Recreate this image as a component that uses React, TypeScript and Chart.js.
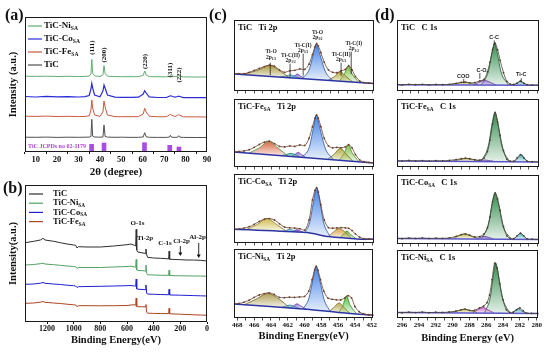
import React, { useEffect, useRef } from 'react';
import { Chart, registerables } from 'chart.js';

Chart.register(...registerables);

const SERIF = "'Times New Roman', 'Liberation Serif', serif";
const SANS = "Arial, 'Liberation Sans', sans-serif";

// ---------------- (a) XRD ----------------
const xrdAngles = [5, 10, 15, 20, 25, 30, 33, 35, 35.8, 36.2, 36.6, 37.5, 40, 41.4, 41.9, 42.4, 43.5, 47, 50, 55, 58, 60.2, 60.9, 61.6, 63, 67, 71, 72.4, 72.9, 73.4, 75, 76.3, 76.8, 77.3, 79, 85, 90];
const xrdTiC = [14.8, 14.7, 14.9, 14.6, 14.8, 14.7, 14.8, 14.9, 15.5, 32.7, 15.8, 15.0, 14.8, 15.0, 27, 15.6, 14.9, 14.7, 14.8, 14.6, 14.7, 15.0, 19.3, 15.2, 14.7, 14.6, 14.6, 14.9, 16.7, 14.9, 14.6, 14.8, 16.3, 14.8, 14.6, 14.5, 14.5];
const xrdFe = [35.8, 35.6, 35.9, 35.5, 35.7, 35.4, 35.6, 36.2, 42, 52, 44, 37, 35.6, 40, 51, 45, 37, 35.4, 35.3, 35.3, 35.4, 38, 43.7, 40, 35.8, 35.2, 35.3, 36.8, 38, 37, 35.4, 36.8, 37.3, 36.8, 35.2, 35.1, 35.0];
const xrdCo = [55.5, 55.0, 55.6, 55.1, 55.4, 55.0, 55.3, 56.5, 63, 68.7, 64, 57, 55.2, 61, 67, 64, 57, 54.8, 54.7, 54.6, 54.8, 58, 61.3, 59, 55.2, 54.5, 54.5, 55.8, 56.2, 56, 54.8, 55.5, 55.8, 55.5, 54.4, 54.3, 54.3];
const xrdNi = [75.8, 75.6, 75.8, 75.5, 75.7, 75.5, 75.6, 75.9, 78, 92.7, 79, 76.2, 75.5, 77, 86.3, 78.5, 75.8, 75.4, 75.3, 75.3, 75.4, 76.5, 81, 77, 75.4, 75.2, 75.2, 75.8, 76.7, 76, 75.3, 75.8, 76.3, 75.7, 75.1, 75.0, 75.0];
const jcpdsAngles = [36.1, 41.9, 60.8, 72.6, 76.9];
const jcpdsIntensity = [7.7, 9, 9.3, 6.7, 5];
const hklLabels = ['(111)', '(200)', '(220)', '(311)', '(222)'];
const hklAngles = [36.2, 42.0, 61.0, 72.8, 76.8];

// ---------------- (b) XPS survey ----------------
const surveyEnergies = [1365, 1300, 1250, 1230, 1215, 1150, 1100, 1050, 1000, 985, 975, 965, 900, 800, 700, 600, 570, 545, 535, 531, 527, 520, 480, 465, 458, 452, 445, 400, 350, 300, 288, 284, 280, 270, 200, 150, 100, 50, 0];
const surveyTiC = [79.3, 80.7, 82, 83.7, 82, 80.7, 79.3, 78, 77, 76.7, 74, 75.3, 75, 75, 76, 77.3, 78, 76.7, 76, 92.7, 72, 70, 69, 68.7, 73, 67, 64.7, 64, 63.7, 63.3, 63, 71, 62.7, 62.7, 62.3, 62, 62, 61.7, 61];
const surveyNi = [57, 57.5, 58.3, 58.8, 58, 57.3, 56.7, 56, 55.5, 55.3, 53.5, 54.5, 54.5, 54.5, 55, 55.5, 55.8, 55, 54.7, 62.5, 52, 51.5, 51.3, 51, 57, 48.5, 47.3, 47, 46.8, 46.7, 46.6, 52, 46.4, 46.4, 46.2, 46.1, 46, 46, 45.8];
const surveyCo = [37.7, 38, 38.8, 39.5, 38.7, 38, 37.5, 36.8, 36.3, 36, 34.5, 35.3, 35.5, 35.7, 36, 36.3, 36.5, 36, 35.8, 43, 33, 32.8, 32.5, 32.3, 37, 28.5, 28, 27.7, 27.5, 27.3, 27.2, 32.7, 27, 27, 26.8, 26.6, 26.4, 26.2, 26];
const surveyFe = [18.7, 19, 19.8, 20.5, 19.7, 19, 18.5, 17.8, 17.2, 17, 15.3, 16.3, 16.3, 16.2, 16.3, 16.5, 17, 17.3, 16.5, 24, 15.5, 15.3, 15.2, 15.2, 17.5, 9.5, 8.8, 8.6, 8.5, 8.4, 8.3, 13.7, 8.2, 8.1, 7.8, 7.5, 7.2, 7, 6.7];
const surveyTicks = [0, 200, 400, 600, 800, 1000, 1200];
const surveyLabels = ['O-1s', 'Ti-2p', 'C-1s', 'Cl-2p', 'Al-2p'];
const surveyLabelEnergies = [521, 465, 315, 191, 71];

// ---------------- (c) Ti 2p ----------------
const ti2pEnergies = [468.4, 467.8, 467.2, 466.6, 466.0, 465.4, 464.8, 464.2, 463.6, 463.0, 462.4, 461.8, 461.2, 460.6, 460.0, 459.5, 459.1, 458.8, 458.6, 458.4, 458.1, 457.7, 457.2, 456.7, 456.2, 455.7, 455.2, 454.8, 454.4, 454.0, 453.5, 453.0, 452.4, 451.8];
const ti2pRawTiC = [18.0, 18.2, 18.0, 19.5, 21.5, 23.5, 25.5, 27.0, 25.8, 22.0, 19.5, 21.0, 21.5, 23.0, 22.5, 28, 38, 46, 49.5, 47, 40, 30, 22, 19.5, 19.0, 21.0, 22.5, 26.5, 22, 15, 10.5, 8.8, 8.3, 7.7];
const ti2pRawFe = [15.7, 16.2, 16.8, 18.0, 20.5, 23.5, 26.0, 27.0, 24.5, 21.5, 21.0, 22.0, 21.5, 23.0, 22.5, 30, 42, 51, 54.3, 51, 42, 30, 22, 20, 20.5, 20, 21, 23.3, 20, 13, 7.5, 5.5, 4.8, 4.3];
const ti2pRawCo = [14.3, 14.8, 15.6, 17.0, 19.5, 22.5, 24.8, 25.5, 24, 20, 16.5, 15.8, 15.5, 15.0, 13.5, 24, 45, 55, 57.7, 53, 40, 24, 16, 15.5, 15.7, 16, 15.8, 15.3, 13, 9.5, 6, 4.5, 4.2, 4.0];
const ti2pRawNi = [14.7, 15.2, 16.5, 18.5, 21.5, 24.0, 25.5, 26.3, 24.5, 21.5, 21.2, 21.7, 21.5, 22, 22.5, 28, 40, 50, 54, 50, 40, 28, 20.7, 19.5, 19, 18.8, 21, 23.3, 21, 12, 6.5, 4.5, 3.5, 3.0];
const ti2pBgTiC = [[468.4, 17.7], [451.8, 7.7]];
const ti2pBgFe = [[468.4, 15.7], [451.8, 4.3]];
const ti2pBgCo = [[468.4, 14.3], [459.8, 11], [457.2, 6.7], [453.4, 4], [451.8, 4]];
const ti2pBgNi = [[468.4, 14.7], [459.8, 9.2], [455.6, 5.5], [451.8, 3]];
const ti2pFitTiC = [
  { name: 'Ti-O 2p1/2', pts: [[467.3, 17.3], [465.6, 21.5], [464.2, 26.7], [462.9, 20.5], [461.8, 13.7]] },
  { name: 'Ti-C(II) 2p1/2', pts: [[463.0, 14.4], [462.2, 15.6], [461.7, 16.8], [461.1, 15.2], [460.4, 13.0]] },
  { name: 'Ti-C(I) 2p1/2', pts: [[461.7, 13.7], [461.2, 15.8], [460.9, 17.7], [460.5, 15.6], [460.0, 12.9]] },
  { name: 'Ti-O 2p3/2', pts: [[460.4, 12.8], [459.5, 22], [459.0, 38], [458.65, 49], [458.2, 38], [457.6, 21], [456.7, 10.8]] },
  { name: 'Ti-C(II) 2p3/2', pts: [[457.3, 10.9], [456.5, 15], [455.8, 20], [455.1, 15], [454.3, 9.2]] },
  { name: 'Ti-C(I) 2p3/2', pts: [[455.9, 10.2], [455.3, 18], [454.85, 26], [454.4, 18], [453.6, 8.8]] },
];
const ti2pFitFe = [
  { name: 'Ti-O 2p1/2', pts: [[466.6, 14.5], [465.4, 20], [464.3, 26.7], [463.2, 20], [462.0, 11.5]] },
  { name: 'Ti-C(II) 2p1/2', pts: [[462.8, 11.9], [462.2, 13], [461.7, 14.3], [461.1, 12.8], [460.5, 10.3]] },
  { name: 'Ti-C(I) 2p1/2', pts: [[461.6, 11], [461.2, 13], [460.8, 15.2], [460.4, 13], [459.9, 10]] },
  { name: 'Ti-O 2p3/2', pts: [[460.4, 10.2], [459.5, 20], [459.0, 40], [458.65, 54.3], [458.2, 40], [457.6, 20], [456.6, 7.6]] },
  { name: 'Ti-C(II) 2p3/2', pts: [[457.3, 8], [456.5, 13.5], [455.8, 19.5], [455.1, 13.5], [454.3, 6]] },
  { name: 'Ti-C(I) 2p3/2', pts: [[455.9, 7.2], [455.3, 15], [454.85, 23.5], [454.4, 15], [453.6, 5.5]] },
];
const ti2pFitCo = [
  { name: 'Ti-O 2p1/2', pts: [[467.0, 13.9], [465.7, 19], [464.5, 25.7], [463.3, 19], [462.1, 11.8]] },
  { name: 'Ti-C(II) 2p1/2', pts: [[462.7, 12.1], [462.2, 13.2], [461.8, 14.2], [461.3, 13], [460.7, 11.4]] },
  { name: 'Ti-C(I) 2p1/2', pts: [[461.5, 11.6], [461.2, 12.8], [460.9, 14], [460.6, 12.7], [460.2, 11]] },
  { name: 'Ti-O 2p3/2', pts: [[460.0, 10.9], [459.4, 22], [459.0, 42], [458.6, 57.7], [458.2, 42], [457.8, 22], [457.0, 6.5]] },
  { name: 'Ti-C(II) 2p3/2', pts: [[457.2, 6.7], [456.6, 11.5], [456.0, 15], [455.3, 12], [454.5, 5]] },
  { name: 'Ti-C(I) 2p3/2', pts: [[455.8, 5.8], [455.4, 9.5], [455.0, 12.5], [454.6, 9], [453.9, 4.5]] },
];
const ti2pFitNi = [
  { name: 'Ti-O 2p1/2', pts: [[467.2, 13.8], [465.8, 19.5], [464.4, 25.7], [463.0, 19.5], [461.8, 10.8]] },
  { name: 'Ti-C(II) 2p1/2', pts: [[462.8, 11], [462.2, 12.5], [461.8, 13.5], [461.3, 12.4], [460.6, 9.8]] },
  { name: 'Ti-C(I) 2p1/2', pts: [[461.8, 10.4], [461.3, 12.8], [460.9, 14.8], [460.5, 12.8], [459.8, 9.4]] },
  { name: 'Ti-O 2p3/2', pts: [[460.2, 9.5], [459.5, 20], [459.0, 40], [458.65, 54], [458.2, 40], [457.7, 20], [456.9, 6.2]] },
  { name: 'Ti-C(II) 2p3/2', pts: [[457.1, 6.4], [456.5, 11], [455.9, 15.7], [455.3, 11], [454.6, 4.8]] },
  { name: 'Ti-C(I) 2p3/2', pts: [[455.9, 5.7], [455.4, 14], [455.0, 23.3], [454.6, 14], [453.8, 4.4]] },
];

// ---------------- (d) C 1s ----------------
const c1sEnergies = [296.6, 296.0, 295.2, 294.4, 293.6, 292.8, 292.0, 291.2, 290.4, 289.6, 289.0, 288.5, 288.0, 287.4, 286.8, 286.3, 285.9, 285.6, 285.3, 285.0, 284.7, 284.4, 284.0, 283.6, 283.2, 282.8, 282.4, 282.0, 281.6, 281.2, 280.6, 279.8];
const c1sRawTiC = [6.8, 6.3, 7.0, 6.5, 6.9, 6.4, 6.8, 6.6, 7.0, 8.0, 9.0, 9.3, 8.5, 8.8, 10.5, 12.0, 20, 30, 43, 50, 43, 32, 19, 10, 7.2, 6.8, 8.2, 10.3, 8.3, 6.6, 6.2, 6.0];
const c1sRawFe = [6.6, 6.2, 6.8, 6.3, 6.7, 6.2, 6.6, 6.4, 6.9, 7.8, 8.6, 9.2, 8.6, 7.6, 7.2, 9.5, 16, 28, 45, 57, 47, 33, 17, 8, 6.2, 6.0, 9.5, 13, 9.5, 6, 5.5, 5.3];
const c1sRawCo = [6.0, 5.6, 6.2, 5.8, 6.3, 5.8, 6.1, 5.9, 6.4, 8.0, 9.8, 10.6, 9.2, 7.4, 7.8, 10.5, 17, 28, 44, 53.3, 47, 35, 18, 8.5, 5.8, 5.5, 8.5, 11.3, 8.5, 5.3, 5.0, 4.7];
const c1sRawNi = [6.0, 5.5, 6.1, 5.7, 6.2, 5.6, 6.0, 5.8, 6.3, 7.2, 8.5, 9.3, 8.0, 8.0, 10.5, 12.5, 16, 24, 40, 57, 52, 36, 19, 8.5, 5.8, 6.0, 8.5, 10.5, 7.5, 5.0, 4.8, 4.7];
const c1sBgTiC = [[296.6, 6.6], [279.8, 6.0]];
const c1sBgFe = [[296.6, 6.3], [279.8, 5.3]];
const c1sBgCo = [[296.6, 5.8], [279.8, 4.7]];
const c1sBgNi = [[296.6, 5.8], [279.8, 4.7]];
const c1sFitTiC = [
  { name: 'COO', pts: [[290.4, 6.6], [289.4, 8], [288.7, 9.3], [288.0, 8], [287.0, 6.5]] },
  { name: 'C-O', pts: [[287.6, 6.5], [286.8, 9.5], [286.3, 11.5], [285.7, 9.5], [284.9, 6.3]] },
  { name: 'C-C', pts: [[286.6, 6.5], [285.8, 20], [285.4, 38], [285.05, 50], [284.7, 38], [284.3, 20], [283.4, 6.2]] },
  { name: 'Ti-C', pts: [[282.8, 6.2], [282.4, 8], [282.0, 10.3], [281.6, 8], [281.1, 6.1]] },
];
const c1sFitFe = [
  { name: 'COO', pts: [[290.0, 6.4], [289.1, 7.8], [288.4, 9], [287.6, 7.6], [286.8, 6.3]] },
  { name: 'C-O', pts: [[287.2, 6.2], [286.7, 6.9], [286.3, 7.4], [285.8, 6.8], [285.2, 6.1]] },
  { name: 'C-C', pts: [[286.6, 6.3], [285.8, 22], [285.35, 45], [285.0, 57], [284.65, 45], [284.2, 22], [283.3, 5.8]] },
  { name: 'Ti-C', pts: [[282.7, 5.7], [282.3, 9], [281.9, 13], [281.5, 9], [281.1, 5.5]] },
];
const c1sFitCo = [
  { name: 'COO', pts: [[290.0, 5.9], [289.3, 8.3], [288.6, 10.5], [287.9, 8.3], [287.1, 5.8]] },
  { name: 'C-O', pts: [[287.2, 5.6], [286.7, 7], [286.3, 8], [285.8, 7], [285.2, 5.4]] },
  { name: 'C-C', pts: [[286.6, 5.6], [285.8, 20], [285.35, 42], [285.0, 53.3], [284.6, 42], [284.1, 20], [283.1, 5]] },
  { name: 'Ti-C', pts: [[282.8, 5], [282.4, 8.3], [282.0, 11.3], [281.6, 8.3], [281.2, 4.9]] },
];
const c1sFitNi = [
  { name: 'COO', pts: [[290.2, 5.9], [289.3, 7.6], [288.6, 9.2], [287.9, 7.6], [287.1, 5.8]] },
  { name: 'C-O', pts: [[287.6, 5.7], [286.9, 9], [286.4, 11.3], [285.9, 9], [285.1, 5.4]] },
  { name: 'C-C', pts: [[286.2, 5.5], [285.5, 22], [285.15, 45], [284.9, 58], [284.55, 45], [284.1, 22], [283.2, 5]] },
  { name: 'Ti-C', pts: [[283.0, 4.9], [282.6, 7.5], [282.2, 10], [281.8, 7.5], [281.3, 4.8]] },
];

// ---------------- helpers ----------------
type Seg = string | { sub: string };

const rgba = (c: number[], a: number) => `rgba(${c[0]},${c[1]},${c[2]},${a})`;
const darker = (c: number[], f = 0.68) => c.map((v) => Math.round(v * f));

function drawRich(ctx: CanvasRenderingContext2D, segs: Seg[], x: number, y: number, size: number, color: string, family = SERIF, align: 'left' | 'center' = 'left') {
  const main = `bold ${size}px ${family}`;
  const sub = `bold ${(size * 0.62).toFixed(2)}px ${family}`;
  const items = segs.map((s) => (typeof s === 'string' ? { t: s, f: main, dy: 0 } : { t: s.sub, f: sub, dy: size * 0.3 }));
  let total = 0;
  const ws = items.map((it) => {
    ctx.font = it.f;
    const w = ctx.measureText(it.t).width;
    total += w;
    return w;
  });
  let cx = align === 'center' ? x - total / 2 : x;
  ctx.fillStyle = color;
  ctx.textBaseline = 'middle';
  ctx.textAlign = 'left';
  items.forEach((it, i) => {
    ctx.font = it.f;
    ctx.fillText(it.t, cx, y + it.dy);
    cx += ws[i];
  });
}

const framePlugin = {
  id: 'frame',
  afterDraw(chart: any) {
    const { ctx, chartArea: a } = chart;
    ctx.save();
    ctx.strokeStyle = '#1a1a1a';
    ctx.lineWidth = 1;
    ctx.strokeRect(Math.round(a.left) + 0.5, Math.round(a.top) + 0.5, Math.round(a.right - a.left) - 1, Math.round(a.bottom - a.top) - 1);
    ctx.restore();
  },
};

function deco(draw: (chart: any, ctx: CanvasRenderingContext2D) => void) {
  return {
    id: 'deco',
    afterDatasetsDraw(chart: any) {
      const ctx = chart.ctx;
      ctx.save();
      draw(chart, ctx);
      ctx.restore();
    },
  };
}

const C_TIC = '#505050';
const C_FE = '#c8583e';
const C_CO = '#2b2bd9';
const C_NI = '#62ad72';

const baseOptions = {
  responsive: false,
  animation: false,
  devicePixelRatio: 1,
  plugins: { legend: { display: false }, tooltip: { enabled: false } },
  elements: { point: { radius: 0 } },
};

// ---------------- configs ----------------
function xrdConfig() {
  const pts = (ys: number[]) => ys.map((y, i) => ({ x: xrdAngles[i], y }));
  const line = (label: string, ys: number[], color: string, w = 1) => ({
    type: 'line', label, data: pts(ys), borderColor: color, borderWidth: w, pointRadius: 0, tension: 0, fill: false,
  });
  return {
    type: 'line',
    data: {
      datasets: [
        line('TiC', xrdTiC, C_TIC),
        line('TiC-FeSA', xrdFe, C_FE),
        line('TiC-CoSA', xrdCo, C_CO, 1.2),
        line('TiC-NiSA', xrdNi, C_NI),
        { type: 'bar', label: 'TiC JCPDS 02-1179', data: jcpdsAngles.map((x, i) => ({ x, y: jcpdsIntensity[i] })), backgroundColor: '#a94ce6', barThickness: 4 },
      ],
    },
    options: {
      ...baseOptions,
      layout: { padding: { left: 0, top: 17, right: 8, bottom: 0 } },
      scales: {
        x: {
          type: 'linear', min: 5, max: 90, offset: false,
          afterFit: (s: any) => { s.height = 30; },
          ticks: { stepSize: 10, includeBounds: false, autoSkip: false, maxRotation: 0, padding: 2, color: '#111', font: { family: SERIF, size: 8.5, weight: 'bold', lineHeight: 1 } },
          grid: { drawOnChartArea: false, tickLength: 2, color: '#111' },
          border: { display: false },
          title: { display: true, text: '2θ (degree)', color: '#111', font: { family: SERIF, size: 11, weight: 'bold', lineHeight: 1.2 }, padding: { top: 0, bottom: 3.4 } },
        },
        y: {
          min: 0, max: 135,
          afterFit: (s: any) => { s.width = 25; },
          ticks: { display: false },
          grid: { display: false },
          border: { display: false },
          title: { display: true, text: 'Intensity (a.u.)', color: '#111', font: { family: SERIF, size: 10.5, weight: 'bold', lineHeight: 1.2 }, padding: { top: 7, bottom: 0 } },
        },
      },
    },
    plugins: [
      framePlugin,
      deco((chart, ctx) => {
        const { chartArea: a, scales: { x, y } } = chart;
        drawRich(ctx, ['TiC JCPDs no 02-1179'], a.left + 3, a.bottom - 6, 6, '#b03ad8');
        const hklY = [104.5, 97, 90.5, 82, 77];
        hklLabels.forEach((t, i) => {
          ctx.save();
          ctx.translate(x.getPixelForValue(hklAngles[i]), y.getPixelForValue(hklY[i]));
          ctx.rotate(-Math.PI / 2);
          drawRich(ctx, [t], 0, 0, 7, '#111', SERIF, 'center');
          ctx.restore();
        });
        const leg: { parts: Seg[]; color: string }[] = [
          { parts: ['TiC-Ni', { sub: 'SA' }], color: C_NI },
          { parts: ['TiC-Co', { sub: 'SA' }], color: C_CO },
          { parts: ['TiC-Fe', { sub: 'SA' }], color: C_FE },
          { parts: ['TiC'], color: C_TIC },
        ];
        leg.forEach((it, i) => {
          const yy = a.top + 9 + i * 13;
          ctx.strokeStyle = it.color;
          ctx.lineWidth = 1.2;
          ctx.beginPath();
          ctx.moveTo(a.left + 3, yy);
          ctx.lineTo(a.left + 17, yy);
          ctx.stroke();
          drawRich(ctx, it.parts, a.left + 19, yy, 9, '#111');
        });
      }),
    ],
  };
}

function surveyConfig() {
  const pts = (ys: number[]) => ys.map((y, i) => ({ x: surveyEnergies[i], y }));
  const S_TIC = '#2e2e2e', S_NI = '#52a062', S_CO = '#1f1fd0', S_FE = '#a9451f';
  const line = (label: string, ys: number[], color: string) => ({
    label, data: pts(ys), borderColor: color, borderWidth: 1, pointRadius: 0, tension: 0, fill: false,
  });
  return {
    type: 'line',
    data: {
      datasets: [line('TiC', surveyTiC, S_TIC), line('TiC-NiSA', surveyNi, S_NI), line('TiC-CoSA', surveyCo, S_CO), line('TiC-FeSA', surveyFe, S_FE)],
    },
    options: {
      ...baseOptions,
      layout: { padding: { left: 0, top: 5, right: 8, bottom: 0 } },
      scales: {
        x: {
          type: 'linear', min: 0, max: 1365, reverse: true, offset: false,
          afterFit: (s: any) => { s.height = 30; },
          afterBuildTicks: (s: any) => { s.ticks = surveyTicks.map((v) => ({ value: v })); },
          ticks: { autoSkip: false, maxRotation: 0, padding: 1, color: '#111', font: { family: SERIF, size: 8, weight: 'bold', lineHeight: 1 }, callback: (v: number) => String(v) },
          grid: { drawOnChartArea: false, tickLength: 2, color: '#111' },
          border: { display: false },
          title: { display: true, text: 'Binding Energy(eV)', color: '#111', font: { family: SERIF, size: 10.5, weight: 'bold', lineHeight: 1.2 }, padding: { top: 0, bottom: 5.7 } },
        },
        y: {
          min: 0, max: 137,
          afterFit: (s: any) => { s.width = 25; },
          ticks: { display: false },
          grid: { display: false },
          border: { display: false },
          title: { display: true, text: 'Intensity(a.u.)', color: '#111', font: { family: SERIF, size: 10.5, weight: 'bold', lineHeight: 1.2 }, padding: { top: 7, bottom: 0 } },
        },
      },
    },
    plugins: [
      framePlugin,
      deco((chart, ctx) => {
        const { chartArea: a, scales: { x, y } } = chart;
        const labY = [99, 84, 79, 81, 85];
        surveyLabels.forEach((t, i) => {
          drawRich(ctx, [t], x.getPixelForValue(surveyLabelEnergies[i]), y.getPixelForValue(labY[i]), 7, '#111', SERIF, 'center');
        });
        const arrows = [[200, 76, 66], [62, 79, 64]];
        ctx.strokeStyle = '#111';
        ctx.fillStyle = '#111';
        ctx.lineWidth = 0.9;
        arrows.forEach(([e, y0, y1]) => {
          const px = x.getPixelForValue(e);
          const p0 = y.getPixelForValue(y0);
          const p1 = y.getPixelForValue(y1);
          ctx.beginPath();
          ctx.moveTo(px, p0);
          ctx.lineTo(px, p1 - 3);
          ctx.stroke();
          ctx.beginPath();
          ctx.moveTo(px - 2, p1 - 3.5);
          ctx.lineTo(px + 2, p1 - 3.5);
          ctx.lineTo(px, p1);
          ctx.closePath();
          ctx.fill();
        });
        const leg: { parts: Seg[]; color: string }[] = [
          { parts: ['TiC'], color: S_TIC },
          { parts: ['TiC-Ni', { sub: 'SA' }], color: S_NI },
          { parts: ['TiC-Co', { sub: 'SA' }], color: S_CO },
          { parts: ['TiC-Fe', { sub: 'SA' }], color: S_FE },
        ];
        leg.forEach((it, i) => {
          const yy = a.top + 9 + i * 9.2;
          ctx.strokeStyle = it.color;
          ctx.lineWidth = 1.2;
          ctx.beginPath();
          ctx.moveTo(a.left + 4, yy);
          ctx.lineTo(a.left + 18, yy);
          ctx.stroke();
          drawRich(ctx, it.parts, a.left + 28, yy, 8.5, '#111');
        });
      }),
    ],
  };
}

type Note = { lines: Seg[][]; x: number; y: number[]; mark?: number[] };

function xpsConfig(o: any) {
  const datasets: any[] = o.fit.map((p: any, i: number) => {
    const col = o.colors[i];
    const ys = p.pts.map((q: number[]) => q[1]);
    const hi = Math.max(...ys);
    const lo = Math.min(...ys);
    return {
      label: p.name,
      data: p.pts.map((q: number[]) => ({ x: q[0], y: q[1] })).sort((m: any, n: any) => m.x - n.x),
      fill: 'shape',
      pointRadius: 0,
      borderWidth: 0.8,
      borderColor: o.borders && o.borders[i] ? o.borders[i] : rgba(darker(col), 1),
      backgroundColor: (ctx: any) => {
        const ch = ctx.chart;
        const sy = ch.scales && ch.scales.y;
        if (!ch.chartArea || !sy) return rgba(col, 0.55);
        const g = ch.ctx.createLinearGradient(0, sy.getPixelForValue(hi), 0, sy.getPixelForValue(lo));
        g.addColorStop(0, rgba(col, 0.95));
        g.addColorStop(1, rgba(col, 0.12));
        return g;
      },
      cubicInterpolationMode: 'monotone',
      order: 3,
    };
  });
  datasets.push({
    label: 'Background', data: o.bg.map((q: number[]) => ({ x: q[0], y: q[1] })), borderColor: o.bgColor, borderWidth: 1.5,
    pointRadius: 0, fill: false, tension: 0.3, order: 2,
  });
  datasets.push({
    label: 'Raw', data: o.energies.map((x: number, i: number) => ({ x, y: o.raw[i] })), borderColor: o.rawColor, borderWidth: 0.8,
    pointRadius: 0.9, pointBorderWidth: 0, pointBackgroundColor: o.rawColor, fill: false, tension: 0.3, order: 1,
  });
  return {
    type: 'line',
    data: { datasets },
    options: {
      ...baseOptions,
      layout: { padding: { left: 2, right: 2, top: 1, bottom: 0 } },
      scales: {
        x: {
          type: 'linear', min: o.min, max: o.max, reverse: true, offset: false,
          afterFit: (s: any) => { s.height = o.axisH; },
          ticks: {
            display: o.labels, stepSize: 1, includeBounds: false, autoSkip: false, maxRotation: 0, padding: 1, color: '#111',
            font: { family: SERIF, size: 7, weight: 'bold', lineHeight: 1 },
            callback: (v: number) => (Math.round(v) % 2 === 0 ? String(Math.round(v)) : ''),
          },
          grid: { drawOnChartArea: false, tickLength: 2.5, color: '#222', lineWidth: 0.8 },
          border: { display: false },
          title: { display: !!o.title, text: o.title || '', color: '#111', font: { family: SERIF, size: 10.5, weight: 'bold', lineHeight: 1.2 }, padding: { top: 0, bottom: o.titlePad || 0 } },
        },
        y: { display: false, min: 0, max: o.ymax },
      },
    },
    plugins: [
      framePlugin,
      deco((chart, ctx) => {
        const { chartArea: a, scales: { x, y } } = chart;
        drawRich(ctx, o.header, a.left + 4, a.top + 8, 8.5, '#111');
        (o.notes || []).forEach((n: Note) => {
          const px = x.getPixelForValue(n.x);
          n.lines.forEach((ln, j) => drawRich(ctx, ln, px, y.getPixelForValue(n.y[j]), o.noteSize, '#222', o.noteFamily, 'center'));
          if (n.mark) {
            const mx = x.getPixelForValue(n.mark[0]);
            ctx.strokeStyle = '#222';
            ctx.lineWidth = 0.8;
            ctx.beginPath();
            ctx.moveTo(mx, y.getPixelForValue(n.mark[1]));
            ctx.lineTo(mx, y.getPixelForValue(n.mark[2]));
            ctx.stroke();
          }
        });
      }),
    ],
  };
}

function ChartBox({ left, top, width, height, make }: { left: number; top: number; width: number; height: number; make: () => any }) {
  const ref = useRef<HTMLCanvasElement>(null);
  useEffect(() => {
    const chart = new Chart(ref.current as HTMLCanvasElement, make());
    return () => chart.destroy();
  }, []);
  return <canvas ref={ref} width={width} height={height} style={{ position: 'absolute', left, top, width, height }} />;
}

const sub = (s: string): Seg => ({ sub: s });

export default function App() {
  const cL = 232, cR = 376, dL = 395, dR = 541;
  const cAreas = [[17, 91], [96, 167], [171, 243], [246, 318]];
  const dAreas = [[17, 91], [96, 167], [172, 244], [247, 318]];

  const ti2pBoxes = [
    { raw: ti2pRawTiC, bg: ti2pBgTiC, fit: ti2pFitTiC, header: ['TiC', '   Ti 2p'],
      colors: [[165, 150, 60], [90, 190, 220], [140, 95, 225], [60, 125, 230], [175, 165, 55], [115, 190, 60]] },
    { raw: ti2pRawFe, bg: ti2pBgFe, fit: ti2pFitFe, header: ['TiC-Fe', sub('SA'), '   Ti 2p'],
      colors: [[215, 95, 60], [70, 185, 160], [140, 95, 225], [60, 125, 230], [175, 170, 60], [115, 190, 60]], borders: ['#3f9a3f'] },
    { raw: ti2pRawCo, bg: ti2pBgCo, fit: ti2pFitCo, header: ['TiC-Co', sub('SA'), '   Ti 2p'],
      colors: [[205, 185, 70], [90, 190, 220], [140, 60, 225], [60, 125, 230], [215, 160, 70], [90, 185, 60]] },
    { raw: ti2pRawNi, bg: ti2pBgNi, fit: ti2pFitNi, header: ['TiC-Ni', sub('SA'), '   Ti 2p'],
      colors: [[170, 155, 80], [90, 190, 220], [150, 110, 220], [60, 125, 230], [180, 165, 70], [70, 190, 50]] },
  ];
  const c1sBoxes = [
    { raw: c1sRawTiC, bg: c1sBgTiC, fit: c1sFitTiC, header: ['TiC', '   C 1s'],
      colors: [[185, 175, 60], [150, 95, 210], [40, 135, 70], [60, 165, 175]] },
    { raw: c1sRawFe, bg: c1sBgFe, fit: c1sFitFe, header: ['TiC-Fe', sub('SA'), '   C 1s'],
      colors: [[185, 175, 60], [150, 95, 210], [40, 135, 70], [60, 165, 175]] },
    { raw: c1sRawCo, bg: c1sBgCo, fit: c1sFitCo, header: ['TiC-Co', sub('SA'), '   C 1s'],
      colors: [[185, 175, 60], [150, 95, 210], [40, 135, 70], [60, 165, 175]] },
    { raw: c1sRawNi, bg: c1sBgNi, fit: c1sFitNi, header: ['TiC-Ni', sub('SA'), '   C 1s'],
      colors: [[185, 175, 60], [200, 90, 200], [40, 135, 70], [60, 165, 175]] },
  ];
  const ti2pNotes: Note[] = [
    { lines: [['Ti-O'], ['2p', sub('1/2')]], x: 464.0, y: [41, 34.5], mark: [464.1, 29.5, 16.5] },
    { lines: [['Ti-C(II)'], ['2p', sub('1/2')]], x: 461.7, y: [37, 31.5], mark: [461.75, 28.5, 14.3] },
    { lines: [['Ti-C(I)'], ['2p', sub('1/2')]], x: 460.2, y: [47.7, 42], mark: [460.2, 39, 16] },
    { lines: [['Ti-O'], ['2p', sub('3/2')]], x: 458.5, y: [61, 55.3] },
    { lines: [['Ti-C(II)'], ['2p', sub('3/2')]], x: 455.7, y: [37.7, 32.5], mark: [455.7, 29.5, 16] },
    { lines: [['Ti-C(I)'], ['2p', sub('3/2')]], x: 454.2, y: [49.3, 43.7], mark: [454.5, 41, 17.7] },
  ];
  const c1sNotes: Note[] = [
    { lines: [['COO']], x: 288.75, y: [15], mark: [288.7, 12.5, 8] },
    { lines: [['C-O']], x: 286.6, y: [21.7], mark: [286.8, 18.7, 12.7] },
    { lines: [['C-C']], x: 285.1, y: [56], mark: [285.1, 52.7, 48] },
    { lines: [['Ti-C']], x: 281.9, y: [16.7], mark: [281.9, 13.3, 9.3] },
  ];

  const labelStyle = (left: number, top: number): React.CSSProperties => ({
    position: 'absolute', left, top, fontFamily: SERIF, fontWeight: 'bold', fontSize: 16, lineHeight: '16px', color: '#111',
  });

  return (
    <div style={{ position: 'absolute', left: 0, top: 0, width: 550, height: 352, background: '#fff', overflow: 'hidden' }}>
      <ChartBox left={0} top={0} width={215} height={182} make={xrdConfig} />
      <ChartBox left={0} top={180} width={215} height={172} make={surveyConfig} />
      {ti2pBoxes.map((b, i) => {
        const [T, B] = cAreas[i];
        const last = i === 3;
        const h = (last ? 352 : B + 4) - (T - 1);
        return (
          <ChartBox key={'c' + i} left={cL - 2} top={T - 1} width={cR - cL + 4} height={h}
            make={() => xpsConfig({
              ...b, energies: ti2pEnergies, min: 451.8, max: 468.4, ymax: B - T, axisH: last ? 352 - B : 4, labels: last,
              title: last ? 'Binding Energy(eV)' : '', titlePad: 9.7, rawColor: '#6a3f2c', bgColor: '#2d35a5',
              notes: i === 0 ? ti2pNotes : [], noteSize: 5.5, noteFamily: SERIF,
            })} />
        );
      })}
      {c1sBoxes.map((b, i) => {
        const [T, B] = dAreas[i];
        const last = i === 3;
        const h = (last ? 352 : B + 4) - (T - 1);
        return (
          <ChartBox key={'d' + i} left={dL - 2} top={T - 1} width={dR - dL + 4} height={h}
            make={() => xpsConfig({
              ...b, energies: c1sEnergies, min: 279.8, max: 296.6, ymax: B - T, axisH: last ? 352 - B : 4, labels: last,
              title: last ? 'Binding Energy (eV)' : '', titlePad: 7.7, rawColor: '#4d4033', bgColor: '#5a55c8',
              notes: i === 0 ? c1sNotes : [], noteSize: 5.5, noteFamily: SANS,
            })} />
        );
      })}
      <div style={labelStyle(5, 7)}>(a)</div>
      <div style={labelStyle(3, 180)}>(b)</div>
      <div style={labelStyle(209, 7)}>(c)</div>
      <div style={labelStyle(375, 7)}>(d)</div>
    </div>
  );
}
